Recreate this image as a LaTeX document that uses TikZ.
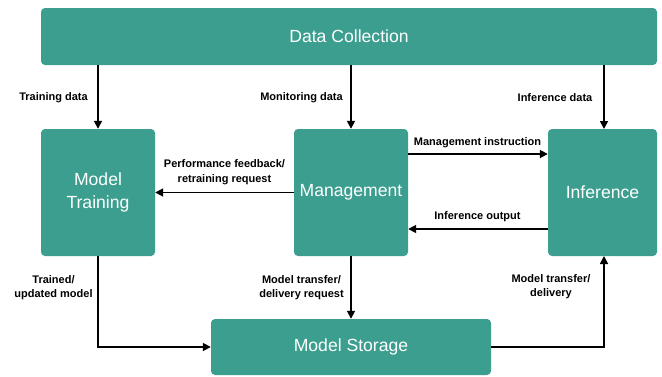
\documentclass[tikz,border=0pt]{standalone}
\usepackage{fontspec}
\setmainfont{Liberation Sans}
\usetikzlibrary{arrows.meta}
\definecolor{blockteal}{HTML}{3B9E8E}

\tikzset{
  block/.style={fill=blockteal, rounded corners=4pt, text=white, align=center,
    inner sep=0pt, font=\fontsize{17.6}{23}\selectfont},
  lbl/.style={font=\bfseries\fontsize{11}{14.5}\selectfont, align=center, inner sep=0pt},
  arr/.style={-{Triangle[length=8pt,width=8pt]}, line width=1.7pt}
}

\begin{document}
\begin{tikzpicture}[x=1pt,y=-1pt]
\useasboundingbox (0,0) rectangle (662,376);
% boxes
\node[block, minimum width=616pt, minimum height=57pt] (data) at (349,36.5) {Data Collection};
\node[block, minimum width=114pt, minimum height=127pt] (train) at (98,192.5) {Model\\Training};
\node[block, minimum width=114pt, minimum height=127pt] (mgmt) at (351,192.5) {Management};
\node[block, minimum width=109pt, minimum height=127pt] (infer) at (602.5,192.5) {Inference};
\node[block, minimum width=280pt, minimum height=56pt] (store) at (351,347) {Model Storage};

% connectors
\draw[arr] (data.south -| train.north) -- (train.north);
\draw[arr] (data.south -| mgmt.north) -- (mgmt.north);
\draw[arr] (data.south -| 604,0) -- (604,129);
\draw[arr] ([yshift=38.5pt]mgmt.east) -- ([yshift=38.5pt]infer.west);
\draw[arr] ([yshift=-36.5pt]infer.west) -- ([yshift=-36.5pt]mgmt.east);
\draw[arr] (mgmt.west) -- (train.east);
\draw[arr] (train.south) |- (store.west);
\draw[arr] (mgmt.south) -- (store.north);
\draw[arr] (store.east) -| (604,256);

% labels
\node[lbl] (l1) at (53.5,98) {Training data};
\node[lbl] (l2) at (301.5,98) {Monitoring data};
\node[lbl] (l3) at (555,98) {Inference data};
\node[lbl] (l4) at (477.5,143) {Management instruction};
\node[lbl] (l5) at (477.5,217) {Inference output};
\node[lbl] (l6) at (224.5,172) {Performance feedback/\\retraining request};
\node[lbl] (l7) at (53.5,287.5) {Trained/\\updated model};
\node[lbl] (l8) at (301.5,287.5) {Model transfer/\\delivery request};
\node[lbl] (l9) at (551,286.5) {Model transfer/\\delivery};
\end{tikzpicture}
\end{document}
